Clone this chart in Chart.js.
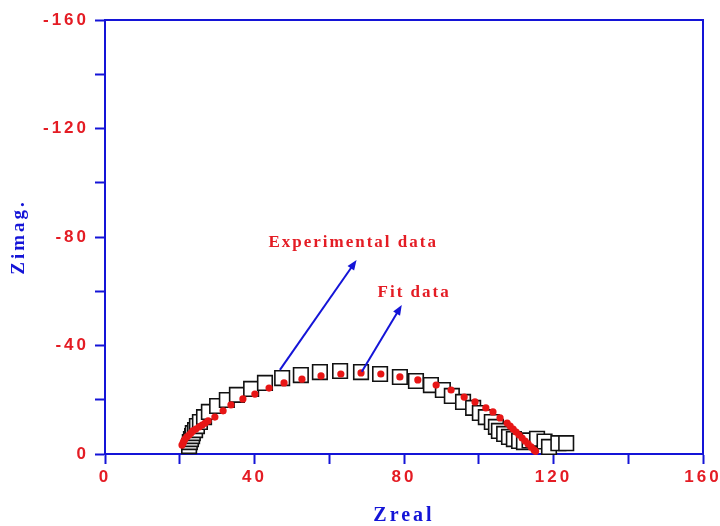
<!DOCTYPE html>
<html>
<head>
<meta charset="utf-8">
<title>Zreal vs Zimag</title>
<script src="https://cdn.jsdelivr.net/npm/chart.js@4.4.1/dist/chart.umd.min.js"></script>
<style>
  html, body { margin: 0; padding: 0; background: #fff; }
  canvas { display: block; }
</style>
</head>
<body>
<canvas id="nyquist" width="720" height="526"></canvas>
<script>
// Experimental data (open squares)
const expZreal = [22.5, 22.7, 23.0, 23.3, 23.5, 24.1, 24.6, 25.4, 26.5, 27.8, 30.0, 32.6, 35.3, 39.1, 42.8,
  47.4, 52.4, 57.5, 62.9, 68.5, 73.6, 78.9, 83.2, 87.2, 90.4, 92.8, 95.8, 98.5, 100.3, 101.9, 103.5,
  104.6, 105.4, 106.8, 108.1, 109.4, 110.8, 112.1, 113.6, 115.6, 117.6, 118.8, 121.3, 123.4];
const expZimag = [-2.9, -4.4, -5.5, -6.6, -7.7, -8.8, -10.3, -11.8, -13.6, -15.5, -17.7, -19.9, -21.8, -24.0, -26.2,
  -28.0, -29.1, -30.2, -30.6, -30.2, -29.5, -28.4, -26.9, -25.4, -23.6, -21.4, -19.2, -17.0, -15.1, -13.6, -11.8,
  -10.0, -8.5, -7.4, -6.3, -5.5, -4.8, -4.4, -5.0, -5.6, -4.6, -2.6, -4.0, -4.0];

// Fit data (red dots)
const fitZreal = [20.6, 20.9, 21.1, 21.4, 21.9, 22.5, 23.0, 23.5, 24.3, 25.2, 26.0, 26.8, 27.6, 29.4, 31.6,
  33.7, 36.9, 40.1, 43.9, 47.9, 52.7, 57.8, 63.1, 68.5, 73.8, 78.9, 83.7, 88.6, 92.6, 96.1, 99.0,
  101.9, 103.8, 105.7, 107.6, 108.4, 109.2, 110.0, 110.8, 111.6, 112.4, 113.2, 114.0, 114.8, 115.2];
const fitZimag = [-3.3, -4.1, -4.8, -5.5, -6.3, -7.0, -7.7, -8.5, -9.2, -10.0, -10.7, -11.4, -12.2, -13.6, -15.9,
  -18.1, -20.3, -22.1, -24.3, -26.2, -27.6, -28.8, -29.5, -29.9, -29.5, -28.4, -27.3, -25.4, -23.6, -21.0, -19.2,
  -17.0, -15.5, -13.3, -11.4, -10.3, -9.2, -8.1, -7.0, -5.9, -4.8, -3.7, -2.6, -1.5, -1.0];

// Labelled tick values
const xTickLabels = [0, 40, 80, 120, 160];
const yTickLabels = [0, -40, -80, -120, -160];

const axisBlue = 'rgb(20, 20, 215)';
const labelRed = 'rgb(228, 28, 36)';

// text + arrow notes, in data units
const notes = [
  { text: 'Experimental data', at: [66.4, -77.8], from: [46.8, -31.0], to: [67.3, -71.5] },
  { text: 'Fit data', at: [82.7, -59.4], from: [68.7, -30.3], to: [79.4, -54.9] }
];

const toPoints = (xs, ys) => xs.map((v, i) => ({ x: v, y: ys[i] }));

const frameAndNotes = {
  id: 'frameAndNotes',
  beforeUpdate(chart) { chart.ctx.letterSpacing = '3px'; },
  beforeDraw(chart) { chart.ctx.letterSpacing = '3px'; },
  afterDraw(chart) {
    const { ctx, chartArea: a, scales: { x, y } } = chart;
    ctx.save();
    // top and right border of the frame
    ctx.strokeStyle = axisBlue;
    ctx.lineWidth = 2;
    ctx.beginPath();
    ctx.moveTo(a.left, a.top);
    ctx.lineTo(a.right, a.top);
    ctx.lineTo(a.right, a.bottom);
    ctx.stroke();

    notes.forEach(n => {
      const x1 = x.getPixelForValue(n.from[0]), y1 = y.getPixelForValue(n.from[1]);
      const x2 = x.getPixelForValue(n.to[0]), y2 = y.getPixelForValue(n.to[1]);
      const ang = Math.atan2(y2 - y1, x2 - x1);
      ctx.strokeStyle = axisBlue;
      ctx.fillStyle = axisBlue;
      ctx.lineWidth = 2;
      ctx.beginPath();
      ctx.moveTo(x1, y1);
      ctx.lineTo(x2 - 6 * Math.cos(ang), y2 - 6 * Math.sin(ang));
      ctx.stroke();
      ctx.beginPath();
      ctx.moveTo(x2, y2);
      ctx.lineTo(x2 - 10 * Math.cos(ang) + 4 * Math.sin(ang), y2 - 10 * Math.sin(ang) - 4 * Math.cos(ang));
      ctx.lineTo(x2 - 10 * Math.cos(ang) - 4 * Math.sin(ang), y2 - 10 * Math.sin(ang) + 4 * Math.cos(ang));
      ctx.closePath();
      ctx.fill();

      ctx.letterSpacing = '2px';
      ctx.font = 'bold 17px "Liberation Serif", "Times New Roman", serif';
      ctx.fillStyle = labelRed;
      ctx.textAlign = 'center';
      ctx.textBaseline = 'middle';
      ctx.fillText(n.text, x.getPixelForValue(n.at[0]), y.getPixelForValue(n.at[1]));
    });
    ctx.restore();
  }
};

const tickFont = { family: '"Liberation Sans", Arial, sans-serif', size: 17, weight: 'bold' };
const titleFont = { family: '"Liberation Serif", "Times New Roman", serif', size: 20, weight: 'bold', lineHeight: 1 };

new Chart(document.getElementById('nyquist').getContext('2d'), {
  type: 'scatter',
  data: {
    datasets: [
      {
        label: 'Fit data',
        data: toPoints(fitZreal, fitZimag),
        pointStyle: 'circle',
        pointRadius: 3.6,
        pointBorderWidth: 0,
        pointBackgroundColor: 'rgb(232, 22, 22)',
        order: 0,
        clip: false
      },
      {
        label: 'Experimental data',
        data: toPoints(expZreal, expZimag),
        pointStyle: 'rect',
        pointRadius: 10.3,
        pointBorderWidth: 1.6,
        pointBorderColor: '#111',
        pointBackgroundColor: '#fff',
        order: 1,
        clip: false
      }
    ]
  },
  options: {
    responsive: false,
    animation: false,
    layout: { padding: { top: 20, right: 17, left: 0, bottom: 0 } },
    plugins: { legend: { display: false }, tooltip: { enabled: false } },
    scales: {
      x: {
        type: 'linear',
        min: 0,
        max: 160,
        afterFit: s => { s.height = 72; s.paddingLeft = 0; s.paddingRight = 0; },
        ticks: {
          stepSize: 20,
          autoSkip: false,
          maxRotation: 0,
          padding: 3,
          color: labelRed,
          font: tickFont,
          callback: v => xTickLabels.includes(v) ? String(v) : ''
        },
        grid: { drawOnChartArea: false, tickLength: 10, tickColor: axisBlue, tickWidth: 2 },
        border: { color: axisBlue, width: 2 },
        title: { display: true, text: 'Zreal', color: axisBlue, font: titleFont, padding: { top: 0, bottom: 0 } }
      },
      y: {
        type: 'linear',
        min: -160,
        max: 0,
        reverse: true,
        afterFit: s => { s.width = 105; s.paddingTop = 0; s.paddingBottom = 0; },
        ticks: {
          stepSize: 20,
          autoSkip: false,
          padding: 6,
          color: labelRed,
          font: tickFont,
          callback: v => yTickLabels.includes(v) ? String(v) : ''
        },
        grid: { drawOnChartArea: false, tickLength: 10, tickColor: axisBlue, tickWidth: 2 },
        border: { color: axisBlue, width: 2 },
        title: { display: true, text: 'Zimag.', color: axisBlue, font: { ...titleFont, size: 19 }, padding: { top: 10, bottom: 0 } }
      }
    }
  },
  plugins: [frameAndNotes]
});
</script>
</body>
</html>
